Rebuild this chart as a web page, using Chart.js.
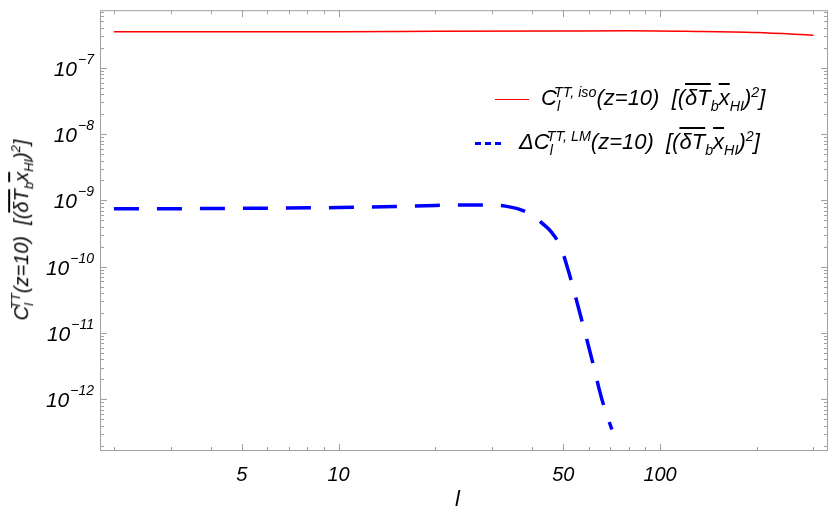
<!DOCTYPE html>
<html><head><meta charset="utf-8">
<script src="https://cdn.jsdelivr.net/npm/chart.js@4"></script>
<style>
body{margin:0;background:#fff;}
#wrap{position:relative;width:830px;height:514px;font-family:"Liberation Sans",Arial,sans-serif;font-style:italic;}
canvas{position:absolute;left:0;top:0;}
.lg{position:absolute;font-size:22px;white-space:nowrap;color:#000;}
.ov{text-decoration:overline;}
sup,sub{font-size:65%;}
#ytitle{position:absolute;left:22px;top:230px;transform:translate(-50%,-50%) rotate(-90deg);font-size:20px;white-space:nowrap;}
#xtitle{position:absolute;left:455px;top:486px;font-size:22px;}
</style></head><body>
<div id="wrap">
<canvas id="c" width="830" height="514"></canvas>
<div class="lg" style="left:495px;top:84px;"><span style="display:inline-block;width:34px;height:1.5px;background:red;vertical-align:middle;margin-right:12px"></span>C<sub>l</sub><sup style="margin-left:-6px">TT, iso</sup>(z=10)&nbsp;&nbsp;[(<span class="ov">δT</span><sub>b</sub><span class="ov">x</span><sub>HI</sub>)<sup>2</sup>]</div>
<div class="lg" style="left:475px;top:128px;"><span style="display:inline-block;width:26px;border-top:3px dashed blue;vertical-align:middle;margin-right:18px"></span>ΔC<sub>l</sub><sup style="margin-left:-6px">TT, LM</sup>(z=10)&nbsp;&nbsp;[(<span class="ov">δT</span><sub>b</sub><span class="ov">x</span><sub>HI</sub>)<sup>2</sup>]</div>
<div id="ytitle">C<sub>l</sub><sup style="margin-left:-6px">TT</sup>(z=10)&nbsp;&nbsp;[(<span class="ov">δT</span><sub>b</sub><span class="ov">x</span><sub>HI</sub>)<sup>2</sup>]</div>
<div id="xtitle">l</div>
</div>
<script>
const isoL = [2, 5, 10, 20, 50, 80, 120, 200, 300];
const isoC = [3.5e-7, 3.5e-7, 3.5e-7, 3.55e-7, 3.6e-7, 3.62e-7, 3.55e-7, 3.4e-7, 3.1e-7];
const lmL = [2, 3, 5, 10, 15, 20, 25, 29, 33, 36, 40, 43, 46, 49, 52, 56, 61, 66, 70.8];
const lmC = [7.5e-10, 7.5e-10, 7.6e-10, 7.8e-10, 8.1e-10, 8.4e-10, 8.55e-10, 8.55e-10, 8.2e-10, 7.5e-10, 6.0e-10, 4.5e-10, 3.3e-10, 2.0e-10, 8.3e-11, 2.2e-11, 4.5e-12, 9.8e-13, 3.5e-13];
const xLabels = [5, 10, 50, 100];
const yExps = [-7, -8, -9, -10, -11, -12];
const yLabels = yExps.map(e => Math.pow(10, e));
const X_MIN = 1.81, X_MAX = 333, Y_MIN = 1.66e-13, Y_MAX = 7.4e-7;

function minorTicks(lo, hi){const t=[];for(let e=-14;e<4;e++)for(let m=1;m<10;m++){const v=m*Math.pow(10,e);if(v>=lo&&v<=hi)t.push(v);}return t;}
function isMajor(v,list){return list.some(a=>Math.abs(v/a-1)<1e-6);}

const frame={id:'frame',afterDraw(ch){
  const c=ch.ctx,a=ch.chartArea,xs=ch.scales.x,ys=ch.scales.y;
  c.save();c.strokeStyle='#a0a0a0';c.lineWidth=1;
  c.strokeRect(a.left+0.5,a.top+0.5,a.right-a.left-1,a.bottom-a.top-1);
  minorTicks(X_MIN,X_MAX).forEach(v=>{const p=Math.round(xs.getPixelForValue(v))+0.5;const L=isMajor(v,xLabels)?7:4;
    c.beginPath();c.moveTo(p,a.bottom);c.lineTo(p,a.bottom-L);c.moveTo(p,a.top);c.lineTo(p,a.top+L);c.stroke();});
  minorTicks(Y_MIN,Y_MAX).forEach(v=>{const p=Math.round(ys.getPixelForValue(v))+0.5;const L=isMajor(v,yLabels)?7:4;
    c.beginPath();c.moveTo(a.left,p);c.lineTo(a.left+L,p);c.moveTo(a.right,p);c.lineTo(a.right-L,p);c.stroke();});
  // y tick labels with real superscripts
  c.fillStyle='#000';c.textBaseline='middle';
  yExps.forEach((e,i)=>{const p=ys.getPixelForValue(yLabels[i]);
    c.font='italic 14px "Liberation Sans"';const es=String(e).replace('-','\u2212');const ew=c.measureText(es).width;
    c.textAlign='right';c.fillText(es,a.left-6,p-8);
    c.font='italic 21px "Liberation Sans"';c.fillText('10',a.left-6-ew-1,p+2);});
  c.restore();}};

new Chart(document.getElementById('c'),{
  type:'line',
  data:{datasets:[
    {data:isoL.map((l,i)=>({x:l,y:isoC[i]})),borderColor:'red',borderWidth:1.5,pointRadius:0,cubicInterpolationMode:'monotone'},
    {data:lmL.map((l,i)=>({x:l,y:lmC[i]})),borderColor:'blue',borderWidth:3.5,borderDash:[25,18],pointRadius:0,cubicInterpolationMode:'monotone'}
  ]},
  options:{responsive:false,animation:false,
    layout:{padding:{top:2,right:2,left:0,bottom:0}},
    plugins:{legend:{display:false},tooltip:{enabled:false}},
    scales:{
      x:{type:'logarithmic',min:X_MIN,max:X_MAX,
        afterBuildTicks:s=>{s.ticks=xLabels.map(v=>({value:v}));},
        afterFit:s=>{s.height=63;},
        grid:{display:false},border:{display:false},
        ticks:{autoSkip:false,maxRotation:0,padding:4,color:'#000',font:{family:'Liberation Sans',size:20,style:'italic'},callback:v=>String(v)}},
      y:{type:'logarithmic',min:Y_MIN,max:Y_MAX,
        afterBuildTicks:s=>{s.ticks=yLabels.map(v=>({value:v}));},
        afterFit:s=>{s.width=100;},
        grid:{display:false},border:{display:false},
        ticks:{autoSkip:false,callback:()=>''}}
    }},
  plugins:[frame]
});
</script>
</body></html>
